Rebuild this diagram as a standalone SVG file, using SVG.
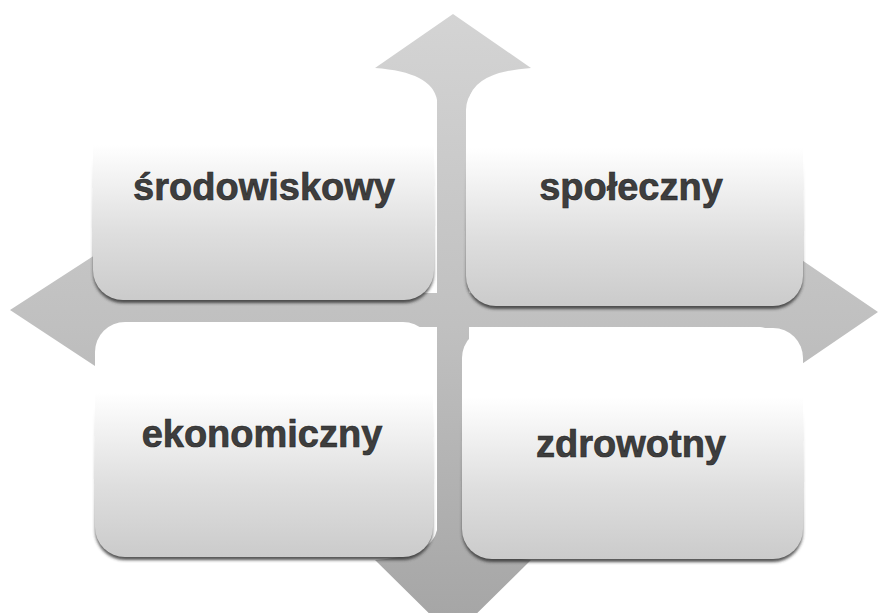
<svg xmlns="http://www.w3.org/2000/svg" width="880" height="613" viewBox="0 0 880 613">
<style>
.box{fill:url(#boxg)}
.shd{fill:url(#shg);filter:url(#bl)}
.lbl{font-family:"Liberation Sans",Arial,sans-serif;font-weight:bold;font-size:38px;fill:#3e3e3e;stroke:#222;stroke-width:0.6;text-anchor:middle}
</style>
<defs>
<linearGradient id="boxg" x1="0" y1="0" x2="0" y2="1">
<stop offset="0" stop-color="#ffffff"/>
<stop offset="0.3" stop-color="#ffffff"/>
<stop offset="0.7" stop-color="#dedede"/>
<stop offset="1" stop-color="#cbcbcb"/>
</linearGradient>
<linearGradient id="shg" x1="0" y1="0" x2="0" y2="1">
<stop offset="0" stop-color="#333" stop-opacity="0"/>
<stop offset="0.35" stop-color="#333" stop-opacity="0"/>
<stop offset="1" stop-color="#333" stop-opacity="0.85"/>
</linearGradient>
<linearGradient id="crossg" gradientUnits="userSpaceOnUse" x1="0" y1="14" x2="0" y2="637">
<stop offset="0" stop-color="#d4d4d4"/>
<stop offset="0.5" stop-color="#c0c0c0"/>
<stop offset="1" stop-color="#a4a4a4"/>
</linearGradient>
<filter id="bl" x="-5%" y="-5%" width="110%" height="110%">
<feGaussianBlur stdDeviation="1.5"/>
</filter>
</defs>
<g id="connectors">
<path id="cross" fill="url(#crossg)" d="M 453,14 L 531,68 Q 474,72 469,100 L 469,293 L 760,293 Q 788,290 793,254 L 878,312 L 793,370 Q 788,330 760,327 L 469,327 L 469,530 Q 474,556 531,560 L 453,637 L 375,560 Q 432,556 437,530 L 437,327 L 140,327 Q 100,330 95,366 L 10,310 L 95,255 Q 100,290 140,293 L 437,293 L 437,100 Q 432,72 375,68 Z"/>
</g>
<g id="srodowiskowy">
<rect class="shd" x="93" y="81" width="341" height="222" rx="30"/>
<rect class="box" x="93" y="78" width="341" height="222" rx="30"/>
<text class="lbl" x="264" y="200">środowiskowy</text>
</g>
<g id="spoleczny">
<rect class="shd" x="466" y="83" width="337" height="226" rx="30"/>
<rect class="box" x="466" y="80" width="337" height="226" rx="30"/>
<text class="lbl" x="631" y="200">społeczny</text>
</g>
<g id="ekonomiczny">
<rect class="shd" x="95" y="325" width="338" height="235" rx="30"/>
<rect class="box" x="95" y="322" width="338" height="235" rx="30"/>
<text class="lbl" x="262" y="447">ekonomiczny</text>
</g>
<g id="zdrowotny">
<rect class="shd" x="462" y="331" width="341" height="231" rx="30"/>
<rect class="box" x="462" y="328" width="341" height="231" rx="30"/>
<text class="lbl" x="631" y="457">zdrowotny</text>
</g>
</svg>
